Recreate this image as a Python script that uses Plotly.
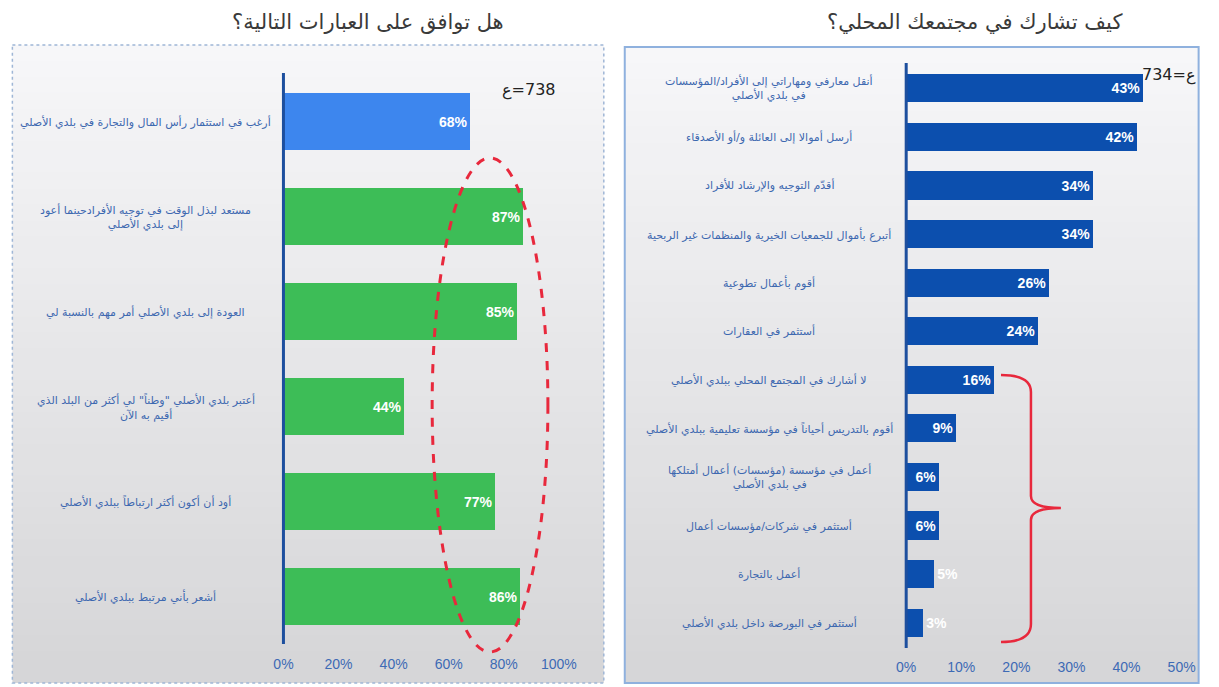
import plotly.graph_objects as go

W, H = 1219, 687

# left panel: "do you agree with the following statements?"
left_title = "هل توافق على العبارات التالية؟"
left_labels = [
    "أرغب في استثمار رأس المال والتجارة في بلدي الأصلي",
    "مستعد لبذل الوقت في توجيه الأفرادحينما أعود<br>إلى بلدي الأصلي",
    "العودة إلى بلدي الأصلي أمر مهم بالنسبة لي",
    "أعتبر بلدي الأصلي \"وطناً\" لي أكثر من البلد الذي<br>أقيم به الآن",
    "أود أن أكون أكثر ارتباطاً ببلدي الأصلي",
    "أشعر بأني مرتبط ببلدي الأصلي",
]
left_values = [0.68, 0.87, 0.85, 0.44, 0.77, 0.86]
left_colors = ["#3d86ee", "#3dbd57", "#3dbd57", "#3dbd57", "#3dbd57", "#3dbd57"]
left_n = "ع\u200e=738"

# right panel: "how do you take part in your local community?"
right_title = "كيف تشارك في مجتمعك المحلي؟"
right_labels = [
    "أنقل معارفي ومهاراتي إلى الأفراد/المؤسسات<br>في بلدي الأصلي",
    "أرسل أموالا إلى العائلة و/أو الأصدقاء",
    "أقدّم التوجيه والإرشاد للأفراد",
    "أتبرع بأموال للجمعيات الخيرية والمنظمات غير الربحية",
    "أقوم بأعمال تطوعية",
    "أستثمر في العقارات",
    "لا أشارك في المجتمع المحلي ببلدي الأصلي",
    "أقوم بالتدريس أحياناً في مؤسسة تعليمية ببلدي الأصلي",
    "أعمل في مؤسسة (مؤسسات) أعمال أمتلكها<br>في بلدي الأصلي",
    "أستثمر في شركات/مؤسسات أعمال",
    "أعمل بالتجارة",
    "أستثمر في البورصة داخل بلدي الأصلي",
]
right_values = [0.43, 0.42, 0.34, 0.34, 0.26, 0.24, 0.16, 0.09, 0.06, 0.06, 0.05, 0.03]
right_n = "734=ع"

left_ticks = [0, 0.2, 0.4, 0.6, 0.8, 1.0]
right_ticks = [0, 0.1, 0.2, 0.3, 0.4, 0.5]


# the page comes out about 1193px wide, 9px in from the left; map reference pixels to paper
def px(x):
    return min(max((x - 9) / 1193.4, 0.002), 0.998)


def py(y):
    return 1 - y / H


label_font = dict(family="DejaVu Sans", size=11, color="#3d68b0")
tick_font = dict(family="Liberation Sans", size=14, color="#3d6ab5")
bar_font = dict(family="Liberation Sans", size=14, color="white")

fig = go.Figure()

fig.add_trace(go.Bar(
    x=left_values, y=left_labels, orientation="h",
    marker=dict(color=left_colors, line=dict(width=0)),
    width=0.6,
    texttemplate="<b>%{x:.0%}</b>", textposition="inside", textangle=0,
    insidetextanchor="end", textfont=bar_font, constraintext="none",
    xaxis="x", yaxis="y", hoverinfo="skip",
))
# the two smallest bars are too short for their labels, which spill out
right_pos = ["inside" if v > 0.055 else "outside" for v in right_values]
fig.add_trace(go.Bar(
    x=right_values, y=right_labels, orientation="h",
    marker=dict(color="#0c4fae", line=dict(width=0)),
    width=0.58,
    texttemplate="<b>%{x:.0%}</b>", textposition=right_pos, textangle=0,
    insidetextanchor="end", textfont=bar_font, constraintext="none",
    cliponaxis=False, xaxis="x2", yaxis="y2", hoverinfo="skip",
))

shapes = []
# panel backgrounds as grey bands (fake gradient)
panels = [(8, 45, 604, 683), (625, 47, 1212, 683)]
nb = 40
for (x0, y0, x1, y1) in panels:
    for i in range(nb):
        t = i / (nb - 1)
        g = int(247 - 33 * t)
        shapes.append(dict(type="rect", xref="paper", yref="paper", layer="below",
                           x0=px(x0), x1=px(x1),
                           y0=py(y0 + (y1 - y0) * i / nb),
                           y1=py(min(y1, y0 + (y1 - y0) * (i + 1) / nb + 1)),
                           line=dict(width=0), fillcolor=f"rgb({g},{g},{g + 2})"))
shapes.append(dict(type="rect", xref="paper", yref="paper", layer="below",
                   x0=px(8), x1=px(604), y0=py(45), y1=py(683),
                   line=dict(color="#9fb6d6", width=1.5, dash="dot")))
shapes.append(dict(type="rect", xref="paper", yref="paper", layer="below",
                   x0=px(625), x1=px(1212), y0=py(47), y1=py(683),
                   line=dict(color="#8fb1de", width=2)))

# axis lines at 0%
shapes.append(dict(type="line", xref="paper", yref="paper",
                   x0=px(283), x1=px(283), y0=py(73), y1=py(644),
                   line=dict(color="#1d4f9e", width=3)))
shapes.append(dict(type="line", xref="paper", yref="paper",
                   x0=px(907), x1=px(907), y0=py(63), y1=py(648),
                   line=dict(color="#1d4f9e", width=3)))

# red dashed ellipse on the left panel
shapes.append(dict(type="circle", xref="paper", yref="paper",
                   x0=px(432), x1=px(548), y0=py(158), y1=py(652),
                   line=dict(color="#e8283c", width=3, dash="dash")))

# red curly brace on the right panel
pts = [(1002, 375), (1032, 375), (1032, 392), (1032, 496), (1032, 508), (1062, 508),
       (1032, 508), (1032, 520), (1032, 624), (1032, 642), (1002, 642)]
p = [(px(a), py(b)) for a, b in pts]
path = ("M {0[0]},{0[1]} Q {1[0]},{1[1]} {2[0]},{2[1]} L {3[0]},{3[1]} "
        "Q {4[0]},{4[1]} {5[0]},{5[1]} Q {6[0]},{6[1]} {7[0]},{7[1]} "
        "L {8[0]},{8[1]} Q {9[0]},{9[1]} {10[0]},{10[1]}").format(*p)
shapes.append(dict(type="path", xref="paper", yref="paper", path=path,
                   line=dict(color="#e8283c", width=2.5)))

annotations = []
for lab in left_labels:
    annotations.append(dict(x=px(145), xref="paper", y=lab, yref="y", text=lab,
                            showarrow=False, font=label_font, align="center",
                            xanchor="center"))
for lab in right_labels:
    annotations.append(dict(x=px(770), xref="paper", y=lab, yref="y2", text=lab,
                            showarrow=False, font=label_font, align="center",
                            xanchor="center"))
title_font = dict(family="DejaVu Sans", size=21, color="#3a3a3a")
annotations.append(dict(x=px(368), y=py(22), xref="paper", yref="paper", text=left_title,
                        showarrow=False, font=title_font, xanchor="center", yanchor="middle"))
annotations.append(dict(x=px(975), y=py(22), xref="paper", yref="paper", text=right_title,
                        showarrow=False, font=title_font, xanchor="center", yanchor="middle"))
n_font = dict(family="DejaVu Sans", size=16, color="#222222")
annotations.append(dict(x=px(529), y=py(90), xref="paper", yref="paper", text=left_n,
                        showarrow=False, font=n_font, xanchor="center", yanchor="middle"))
annotations.append(dict(x=px(1170), y=py(75), xref="paper", yref="paper", text=right_n,
                        showarrow=False, font=n_font, xanchor="center", yanchor="middle"))

fig.update_layout(
    width=W, height=H,
    margin=dict(l=0, r=0, t=0, b=0),
    paper_bgcolor="white", plot_bgcolor="rgba(0,0,0,0)",
    showlegend=False, bargap=0,
    shapes=shapes, annotations=annotations,
    xaxis=dict(domain=[px(283), px(559)], range=[0, 1], tickvals=left_ticks,
               tickformat=".0%", showgrid=False, zeroline=False, showline=False,
               tickfont=tick_font, ticks="", ticklabelstandoff=10, fixedrange=True),
    yaxis=dict(domain=[py(644), py(74)], autorange="reversed", showticklabels=False,
               showgrid=False, zeroline=False, showline=False, anchor="x"),
    xaxis2=dict(domain=[px(907), px(1183)], range=[0, 0.5], tickvals=right_ticks,
                tickformat=".0%", showgrid=False, zeroline=False, showline=False,
                tickfont=tick_font, ticks="", anchor="y2", ticklabelstandoff=10),
    yaxis2=dict(domain=[py(647), py(64)], autorange="reversed", showticklabels=False,
                showgrid=False, zeroline=False, showline=False, anchor="x2"),
)

pin = ("document.documentElement.style.overflow='hidden';"
       "document.body.style.margin='0';document.body.style.overflow='hidden';"
       "var gd=document.getElementById('{plot_id}');"
       "gd.style.position='fixed';gd.style.left='0px';gd.style.top='0px';")
fig.write_html("out.html", config={"displayModeBar": False}, post_script=pin)
